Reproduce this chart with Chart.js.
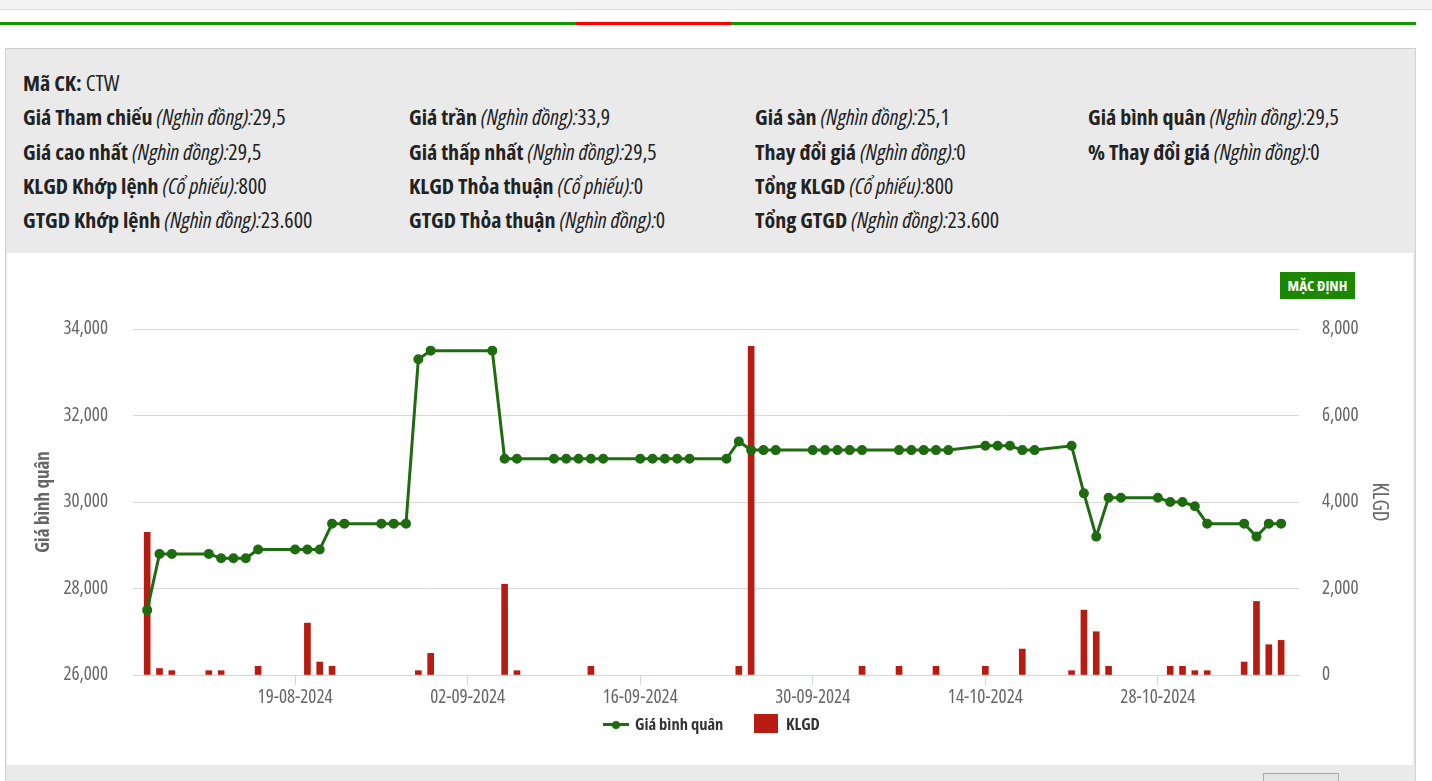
<!DOCTYPE html>
<html lang="vi">
<head>
<meta charset="UTF-8">
<title>CTW</title>
<script src="https://cdn.jsdelivr.net/npm/chart.js"></script>
<style>
  body { margin: 0; width: 1432px; height: 781px; overflow: hidden; background: #fff;
         font-family: "Open Sans", sans-serif; font-stretch: condensed; color: #222; position: relative; }
  .topbar { position: absolute; left: 0; top: 0; width: 1432px; height: 9px; background: #f4f4f4; border-bottom: 1px solid #dcdcdc; }
  .navline { position: absolute; left: 0; top: 22px; width: 1416px; height: 3px; background: #109a00; }
  .navline span { position: absolute; left: 576px; top: 0; width: 155px; height: 3px; background: #f00; }
  .panel { position: absolute; left: 5px; top: 48px; width: 1409px; height: 740px; background: #eaeaea; border: 1px solid #d0d0d0; }
  .info { position: absolute; left: 23px; font-size: 22px; line-height: 26px; white-space: nowrap; }
  .info b { font-weight: bold; }
  .info i { font-style: italic; }
  .chartbox { position: absolute; left: 7px; top: 253px; width: 1406px; height: 512px; background: #fff; }
  #chart { position: absolute; left: 0; top: 0; }
  .btn { position: absolute; left: 1273px; top: 19px; width: 75px; height: 27px; background: #1c8700; color: #fff;
         font-size: 15px; font-weight: bold; line-height: 27px; text-align: center; }
  .legend { position: absolute; top: 461px; left: 0; width: 1406px; height: 20px; font-size: 16.5px; font-weight: bold; color: #333; }
  .legend .item { position: absolute; top: 0; line-height: 20px; white-space: nowrap; }
  .lg-line { position: absolute; top: 9px; width: 26px; height: 3px; background: #1e6b10; }
  .lg-line:after { content: ""; position: absolute; left: 9px; top: -2.5px; width: 8px; height: 8px; border-radius: 50%; background: #1e6b10; }
  .lg-box { position: absolute; top: 0; width: 24px; height: 19px; background: #b71c12; }
  .selbox { position: absolute; left: 1263px; top: 773px; width: 74px; height: 14px; border: 1px solid #aaa; background: #e4e4e4; }
</style>
</head>
<body>
<div class="topbar"></div>
<div class="navline"><span></span></div>
<div class="panel"></div>

<div class="info" style="top:69px"><b>Mã CK:</b> CTW</div>

<div class="info" style="top:103px"><b>Giá Tham chiếu</b> <i>(Nghìn đồng):</i>29,5</div>
<div class="info" style="top:103px;left:409px"><b>Giá trần</b> <i>(Nghìn đồng):</i>33,9</div>
<div class="info" style="top:103px;left:755px"><b>Giá sàn</b> <i>(Nghìn đồng):</i>25,1</div>
<div class="info" style="top:103px;left:1088px"><b>Giá bình quân</b> <i>(Nghìn đồng):</i>29,5</div>

<div class="info" style="top:138px"><b>Giá cao nhất</b> <i>(Nghìn đồng):</i>29,5</div>
<div class="info" style="top:138px;left:409px"><b>Giá thấp nhất</b> <i>(Nghìn đồng):</i>29,5</div>
<div class="info" style="top:138px;left:755px"><b>Thay đổi giá</b> <i>(Nghìn đồng):</i>0</div>
<div class="info" style="top:138px;left:1088px"><b>% Thay đổi giá</b> <i>(Nghìn đồng):</i>0</div>

<div class="info" style="top:172px"><b>KLGD Khớp lệnh</b> <i>(Cổ phiếu):</i>800</div>
<div class="info" style="top:172px;left:409px"><b>KLGD Thỏa thuận</b> <i>(Cổ phiếu):</i>0</div>
<div class="info" style="top:172px;left:755px"><b>Tổng KLGD</b> <i>(Cổ phiếu):</i>800</div>

<div class="info" style="top:206px"><b>GTGD Khớp lệnh</b> <i>(Nghìn đồng):</i>23.600</div>
<div class="info" style="top:206px;left:409px"><b>GTGD Thỏa thuận</b> <i>(Nghìn đồng):</i>0</div>
<div class="info" style="top:206px;left:755px"><b>Tổng GTGD</b> <i>(Nghìn đồng):</i>23.600</div>

<div class="chartbox">
  <canvas id="chart" width="1406" height="512"></canvas>
  <div class="btn">MẶC ĐỊNH</div>
  <div class="legend">
    <div class="item" style="left:596px"><span class="lg-line"></span><span style="margin-left:32px">Giá bình quân</span></div>
    <div class="item" style="left:747px"><span class="lg-box"></span><span style="margin-left:32px">KLGD</span></div>
  </div>
</div>
<div class="selbox"></div>

<script>
// du lieu doc tu bieu do
const dates = [
  '07-08-2024', '08-08-2024', '09-08-2024', '12-08-2024', '13-08-2024', '14-08-2024', '15-08-2024', '16-08-2024',
  '19-08-2024', '20-08-2024', '21-08-2024', '22-08-2024', '23-08-2024', '26-08-2024', '27-08-2024', '28-08-2024',
  '29-08-2024', '30-08-2024', '04-09-2024', '05-09-2024', '06-09-2024', '09-09-2024', '10-09-2024', '11-09-2024',
  '12-09-2024', '13-09-2024', '16-09-2024', '17-09-2024', '18-09-2024', '19-09-2024', '20-09-2024', '23-09-2024',
  '24-09-2024', '25-09-2024', '26-09-2024', '27-09-2024', '30-09-2024', '01-10-2024', '02-10-2024', '03-10-2024',
  '04-10-2024', '07-10-2024', '08-10-2024', '09-10-2024', '10-10-2024', '11-10-2024', '14-10-2024', '15-10-2024',
  '16-10-2024', '17-10-2024', '18-10-2024', '21-10-2024', '22-10-2024', '23-10-2024', '24-10-2024', '25-10-2024',
  '28-10-2024', '29-10-2024', '30-10-2024', '31-10-2024', '01-11-2024', '04-11-2024', '05-11-2024', '06-11-2024',
  '07-11-2024'
];
const prices = [
  27500, 28800, 28800, 28800, 28700, 28700, 28700, 28900,
  28900, 28900, 28900, 29500, 29500, 29500, 29500, 29500,
  33300, 33500, 33500, 31000, 31000, 31000, 31000, 31000,
  31000, 31000, 31000, 31000, 31000, 31000, 31000, 31000,
  31400, 31200, 31200, 31200, 31200, 31200, 31200, 31200,
  31200, 31200, 31200, 31200, 31200, 31200, 31300, 31300,
  31300, 31200, 31200, 31300, 30200, 29200, 30100, 30100,
  30100, 30000, 30000, 29900, 29500, 29500, 29200, 29500,
  29500
];
const volumes = [
  3300, 150, 100, 100, 100, 0, 0, 200,
  0, 1200, 300, 200, 0, 0, 0, 0,
  100, 500, 0, 2100, 100, 0, 0, 0,
  200, 0, 0, 0, 0, 0, 0, 0,
  200, 7600, 0, 0, 0, 0, 0, 0,
  200, 200, 0, 0, 200, 0, 200, 0,
  0, 600, 0, 100, 1500, 1000, 200, 0,
  0, 200, 200, 100, 100, 300, 1700, 700,
  800
];
const tickDates = ['19-08-2024', '02-09-2024', '16-09-2024', '30-09-2024', '14-10-2024', '28-10-2024'];
const priceTicks = [26000, 28000, 30000, 32000, 34000];
const volumeTicks = [0, 2000, 4000, 6000, 8000];

// chart.js chi nhan style normal/italic nen dat 'condensed' vao weight
const FONT = '"Open Sans", sans-serif';

function dayNum(s) {
  const p = s.split('-').map(Number);
  return Date.UTC(p[2], p[1] - 1, p[0]) / 86400000;
}
function fmtDay(v) {
  const d = new Date(v * 86400000);
  const dd = String(d.getUTCDate()).padStart(2, '0');
  const mm = String(d.getUTCMonth() + 1).padStart(2, '0');
  return dd + '-' + mm + '-' + d.getUTCFullYear();
}

const xs = dates.map(dayNum);

new Chart(document.getElementById('chart'), {
  data: {
    datasets: [{
      type: 'line',
      label: 'Giá bình quân',
      data: xs.map((x, i) => ({ x: x, y: prices[i] })),
      yAxisID: 'y',
      borderColor: '#1e6b10',
      backgroundColor: '#1e6b10',
      borderWidth: 3,
      pointRadius: 3.5,
      pointHoverRadius: 4,
      tension: 0,
      order: 1
    }, {
      type: 'bar',
      label: 'KLGD',
      // ngay khong co giao dich thi bo qua cot
      data: xs.map((x, i) => ({ x: x, y: volumes[i] || null })),
      yAxisID: 'y1',
      backgroundColor: '#b71c12',
      borderWidth: 0,
      barThickness: 6,
      order: 2
    }]
  },
  options: {
    responsive: false,
    animation: false,
    layout: { padding: { top: 76, left: 0, right: 0, bottom: 0 } },
    plugins: { legend: { display: false }, tooltip: { enabled: false } },
    scales: {
      x: {
        type: 'linear',
        offset: false,
        min: xs[0] - 1.15,
        max: xs[xs.length - 1] + 1.45,
        afterBuildTicks: s => { s.ticks = tickDates.map(d => ({ value: dayNum(d) })); },
        afterFit: s => { s.height = 90; },
        grid: { offset: false, drawOnChartArea: false, drawTicks: true, tickLength: 10, color: '#ccd6eb' },
        border: { color: '#ccd6eb', width: 1 },
        ticks: {
          autoSkip: false, maxRotation: 0, padding: 1, color: '#666',
          font: { family: FONT, size: 19, weight: 'condensed' },
          callback: v => fmtDay(v)
        }
      },
      y: {
        position: 'left',
        min: 26000, max: 34000,
        afterBuildTicks: s => { s.ticks = priceTicks.map(v => ({ value: v })); },
        afterFit: s => { s.width = 126; },
        grid: { color: '#d8d8d8', lineWidth: 1, drawTicks: false },
        border: { display: false },
        ticks: { padding: 25, color: '#666', font: { family: FONT, size: 19, weight: 'condensed' },
                 callback: v => v.toLocaleString('en-US') },
        title: { display: true, text: 'Giá bình quân', color: '#666', padding: { top: 25 },
                 font: { family: FONT, size: 19, weight: 'bold condensed' } }
      },
      y1: {
        position: 'right',
        min: 0, max: 8000,
        afterBuildTicks: s => { s.ticks = volumeTicks.map(v => ({ value: v })); },
        afterFit: s => { s.width = 114; },
        grid: { drawOnChartArea: false, drawTicks: false },
        border: { display: false },
        ticks: { padding: 23, color: '#666', font: { family: FONT, size: 19, weight: 'condensed' },
                 callback: v => v.toLocaleString('en-US') },
        title: { display: true, text: 'KLGD', color: '#666', padding: { top: 21 },
                 font: { family: FONT, size: 21, weight: 'condensed' } }
      }
    }
  }
});
</script>
</body>
</html>
